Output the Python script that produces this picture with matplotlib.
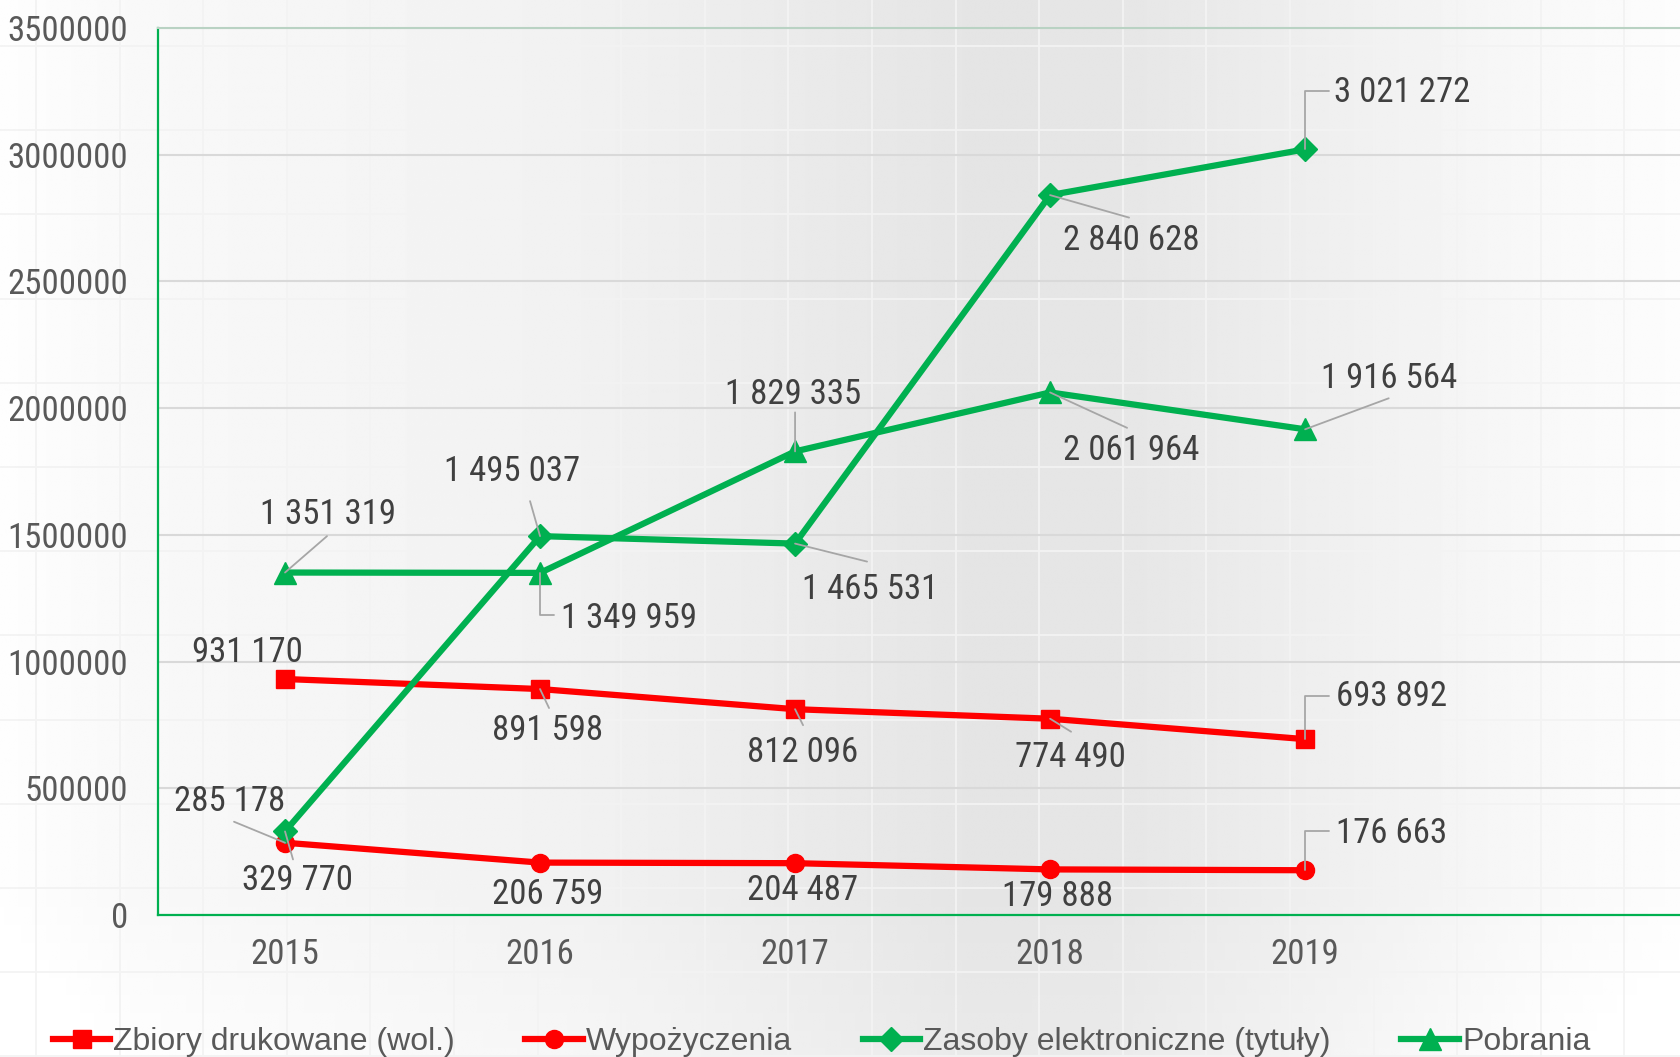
import os
import numpy as np
import matplotlib
matplotlib.use('Agg')
import matplotlib.pyplot as plt
from matplotlib import font_manager
from matplotlib.font_manager import FontProperties

# ---------------- data ----------------
years = ['2015', '2016', '2017', '2018', '2019']
zbiory = [931170, 891598, 812096, 774490, 693892]
wypozyczenia = [285178, 206759, 204487, 179888, 176663]
zasoby = [329770, 1495037, 1465531, 2840628, 3021272]
pobrania = [1351319, 1349959, 1829335, 2061964, 1916564]
series_names = ['Zbiory drukowane (wol.)', 'Wypożyczenia',
                'Zasoby elektroniczne (tytuły)', 'Pobrania']
y_ticks = [0, 500000, 1000000, 1500000, 2000000, 2500000, 3000000, 3500000]

# ---------------- fonts ----------------
def find_narrow():
    bad = ('bold', 'italic', 'oblique', 'light', 'thin', 'black', 'medium',
           'semi', 'extra', 'heavy', 'ultra')
    cands = []
    for f in font_manager.fontManager.ttflist:
        base = os.path.basename(f.fname).lower()
        st = str(f.stretch).lower()
        if (('narrow' in base or 'condensed' in base or st in ('condensed', 'semi-condensed'))
                and not any(b in base for b in bad)
                and f.style == 'normal' and f.weight in (400, 'normal', 'regular')):
            cands.append(f)
    prefs = ['liberationsansnarrow', 'robotocondensed', 'roboto_condensed',
             'opensans_condensed', 'opensanscondensed', 'opensans-condensed',
             'dejavusanscondensed', 'notosans-condensed', 'notosans_condensed']
    for p in prefs:
        for f in cands:
            if os.path.basename(f.fname).lower().replace(' ', '').startswith(p):
                return f.fname
    return cands[0].fname if cands else None

narrow_file = find_narrow()
available = {f.name for f in font_manager.fontManager.ttflist}
txt_font = 'Liberation Sans' if 'Liberation Sans' in available else 'DejaVu Sans'
if narrow_file:
    NUM_SIZE = 25
    num_fp = FontProperties(fname=narrow_file, size=NUM_SIZE)
else:
    NUM_SIZE = 21
    num_fp = FontProperties(family=txt_font, size=NUM_SIZE)

RED = '#FF0000'
GREEN = '#00B050'
LBL = '#404040'
TCK = '#595959'

W, H = 1680, 1057
fig = plt.figure(figsize=(16.8, 10.57), dpi=100)

# ---------------- background ----------------
bg = fig.add_axes([0, 0, 1, 1], zorder=0)
xs = np.linspace(0, 1, 600)
prof = np.interp(xs, [0.0, 0.08, 0.35, 0.58, 0.66, 0.8, 0.92, 1.0],
                 [0.995, 0.975, 0.945, 0.897, 0.9, 0.94, 0.975, 0.99])
ys = np.linspace(0, 1, 60)
vert = np.interp(ys, [0, 0.15, 1], [1.02, 1.0, 1.0])
img = np.clip(np.outer(vert, prof), 0, 1)
bg.imshow(img, cmap='gray', vmin=0, vmax=1, aspect='auto',
          extent=[0, W, 0, H], origin='lower', interpolation='bilinear')
bg.set_xlim(0, W)
bg.set_ylim(0, H)
for xv in np.arange(36, W, 83.6):
    bg.plot([xv, xv], [0, H], color='#f3f3f3', lw=1.3)
for yv in np.arange(46, H, 84.2):
    bg.plot([0, W], [H - yv, H - yv], color='#f3f3f3', lw=1.3)
bg.axis('off')

# ---------------- main axes ----------------
left = 157.5 / W
bottom = 1 - 915 / H
top = 1 - 28 / H
ax = fig.add_axes([left, bottom, 1 - left, top - bottom], zorder=1)
ax.patch.set_alpha(0)

x = np.arange(len(years))
ax.set_xlim(-0.5, 5.47)
ax.set_ylim(0, 3500000)
ax.set_yticks(y_ticks)
ax.set_yticklabels([str(v) for v in y_ticks])
ax.set_xticks(x)
ax.set_xticklabels(years)
ax.yaxis.grid(True, color='#d9d9d9', lw=1.5)
ax.set_axisbelow(True)
ax.tick_params(axis='both', length=0, labelcolor=TCK)
ax.tick_params(axis='y', pad=21)
ax.tick_params(axis='x', pad=16.5)
for lab in ax.get_xticklabels() + ax.get_yticklabels():
    lab.set_fontproperties(num_fp)

for s in ['left', 'bottom']:
    ax.spines[s].set_color(GREEN)
    ax.spines[s].set_linewidth(1.6)
ax.spines['top'].set_color('#b9d2c3')
ax.spines['top'].set_linewidth(1.5)
ax.spines['right'].set_visible(False)

lw = 4.5
h1, = ax.plot(x, zbiory, color=RED, lw=lw, marker='s', ms=13, zorder=3, label=series_names[0])
h2, = ax.plot(x, wypozyczenia, color=RED, lw=lw, marker='o', ms=13, zorder=3, label=series_names[1])
h3, = ax.plot(x, zasoby, color=GREEN, lw=lw, marker='D', ms=12, zorder=3, label=series_names[2])
h4, = ax.plot(x, pobrania, color=GREEN, lw=lw, marker='^', ms=16, zorder=3, label=series_names[3])

# label offsets (pixels) and leader specs per series
label_pos = {
    0: [(-37.5, 30), (7.5, -38.6), (7.5, -40), (20, -36), (86, 45.6)],
    1: [(-55, 44.5), (7.5, -29), (7.5, -24), (7.5, -24), (86, 40)],
    2: [(12, -46), (-28, 67.5), (75, -43), (81, -42), (97.5, 59.4)],
    3: [(43, 61), (89, -42.5), (-2, 59.7), (81, -55), (84, 53.6)],
}
# leader: (dx, dy, elbow)
leaders = {
    0: [None, (9, -19, False), (8, -16, False), (21, -13, False), (23.6, 43.5, True)],
    1: [(-51, 21, False), None, None, None, (23.6, 39.6, True)],
    2: [(8, -28, False), (-10, 35, False), (72, -18, False), (79, -22.5, False), (23.6, 58.3, True)],
    3: [(42, 36.4, False), (14, -42.4, True), (0, 39, False), (77, -35.4, False), (83.6, 31, False)],
}
all_series = [zbiory, wypozyczenia, zasoby, pobrania]
for si, vals in enumerate(all_series):
    for i, v in enumerate(vals):
        dx, dy = label_pos[si][i]
        txt = f"{v:,}".replace(',', ' ')
        ax.annotate(txt, xy=(x[i], v), xytext=(dx, dy - 3), textcoords='offset pixels',
                    ha='center', va='center', color=LBL, fontproperties=num_fp,
                    zorder=5, annotation_clip=False)
        ld = leaders[si][i]
        if ld is not None:
            lx, ly, elbow = ld
            cs = 'angle,angleA=0,angleB=90,rad=0' if elbow else 'arc3'
            ax.annotate('', xy=(x[i], v), xytext=(lx, ly), textcoords='offset pixels',
                        arrowprops=dict(arrowstyle='-', color='#a6a6a6', lw=1.3,
                                        shrinkA=0, shrinkB=0, connectionstyle=cs),
                        zorder=4, annotation_clip=False)

leg = fig.legend(handles=[h1, h2, h3, h4], labels=series_names, loc='center',
                 bbox_to_anchor=(0.489, 0.014), ncol=4, frameon=False,
                 fontsize=23, handlelength=1.8, handletextpad=0.1,
                 columnspacing=2.2, borderaxespad=0)
for t in leg.get_texts():
    t.set_color(TCK)
    t.set_fontfamily(txt_font)

fig.savefig('out.png', dpi=100)
